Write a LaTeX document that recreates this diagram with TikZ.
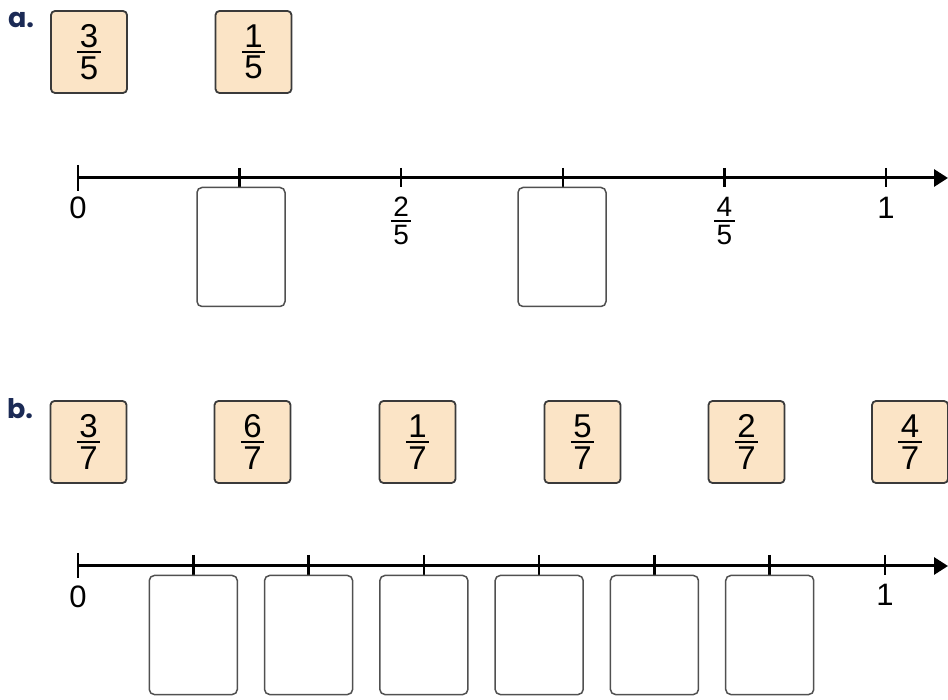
\documentclass[tikz,border=0pt]{standalone}
\usepackage{fontspec}
\setmainfont{Liberation Sans}
\newfontfamily\labfont{Poppins}
\usetikzlibrary{arrows.meta}
\definecolor{cardfill}{HTML}{FBE4C6}
\definecolor{cardline}{HTML}{3A3A3A}
\definecolor{boxline}{HTML}{505050}
\definecolor{navy}{HTML}{1B2A55}
\newcommand{\fr}[2]{\vbox{\halign{\hfil\kern2.5pt##\kern2.5pt\hfil\cr #1\cr\noalign{\kern3.5pt\hrule height 1.8pt\kern3.5pt}#2\cr}}}
\tikzset{
  card/.style={draw=cardline, line width=1.8pt, fill=cardfill, rounded corners=4pt, minimum width=76pt, minimum height=82pt, inner sep=0pt, font=\fontsize{33}{38}\selectfont},
  blank/.style={draw=boxline, line width=1.5pt, rounded corners=5pt, minimum width=88pt, minimum height=119pt, inner sep=0pt},
  axis/.style={line width=3pt, -{Triangle[length=14pt,width=17pt]}},
  tick/.style={line width=2.5pt},
  numlab/.style={font=\fontsize{31}{36}\selectfont, inner sep=0pt},
  fraclab/.style={font=\fontsize{28}{32}\selectfont, inner sep=0pt},
  partlab/.style={font=\labfont\bfseries\fontsize{27}{30}\selectfont, text=navy, inner sep=0pt}
}
\begin{document}
\begin{tikzpicture}[x=1pt,y=1pt]
\useasboundingbox (0,0) rectangle (948,699);
% ---------- part a ----------
\node[partlab] (la) at (21,679) {a.};
\node[card] (a35) at (89,647) {\fr{3}{5}};
\node[card] (a15) at (253.5,647) {\fr{1}{5}};
\coordinate (a0) at (78,521);
\coordinate (aend) at (948,521);
\coordinate (a1) at (239.6,521);
\coordinate (a2) at (401.2,521);
\coordinate (a3) at (562.8,521);
\coordinate (a4) at (724.4,521);
\coordinate (a5) at (886,521);
\draw[axis] (a0) -- (aend);
\draw[tick] ([yshift=13pt]a0) -- ([yshift=-13pt]a0);
\foreach \t in {a1,a2,a3,a4,a5}{
  \draw[tick] ([yshift=10pt]\t) -- ([yshift=-9pt]\t);
}
\node[numlab] (a0l) at (78,491) {0};
\node[numlab] (a5l) at (886,491) {1};
\node[fraclab] (a2l) at (401.2,478) {\fr{2}{5}};
\node[fraclab] (a4l) at (724.4,478) {\fr{4}{5}};
\node[blank] (ab1) at (241,452) {};
\node[blank] (ab2) at (562,452) {};
% ---------- part b ----------
\node[partlab] (lb) at (20,290) {b.};
\node[card] (b37) at (88.5,257) {\fr{3}{7}};
\node[card] (b67) at (252.5,257) {\fr{6}{7}};
\node[card] (b17) at (417.5,257) {\fr{1}{7}};
\node[card] (b57) at (582.5,257) {\fr{5}{7}};
\node[card] (b27) at (746.5,257) {\fr{2}{7}};
\node[card] (b47) at (910,257) {\fr{4}{7}};
\coordinate (b0) at (78,133);
\coordinate (bend) at (948,133);
\draw[axis] (b0) -- (bend);
\draw[tick] ([yshift=13pt]b0) -- ([yshift=-12pt]b0);
\foreach \k in {1,...,7}{
  \coordinate (bt\k) at ({78+115.29*\k},133);
  \draw[tick] ([yshift=11pt]bt\k) -- ([yshift=-9pt]bt\k);
}
\node[numlab] (b0l) at (78,102) {0};
\node[numlab] (b7l) at (885,104) {1};
\foreach \k in {1,...,6}{
  \node[blank] (bb\k) at ({78+115.29*\k},64) {};
}
\end{tikzpicture}
\end{document}
